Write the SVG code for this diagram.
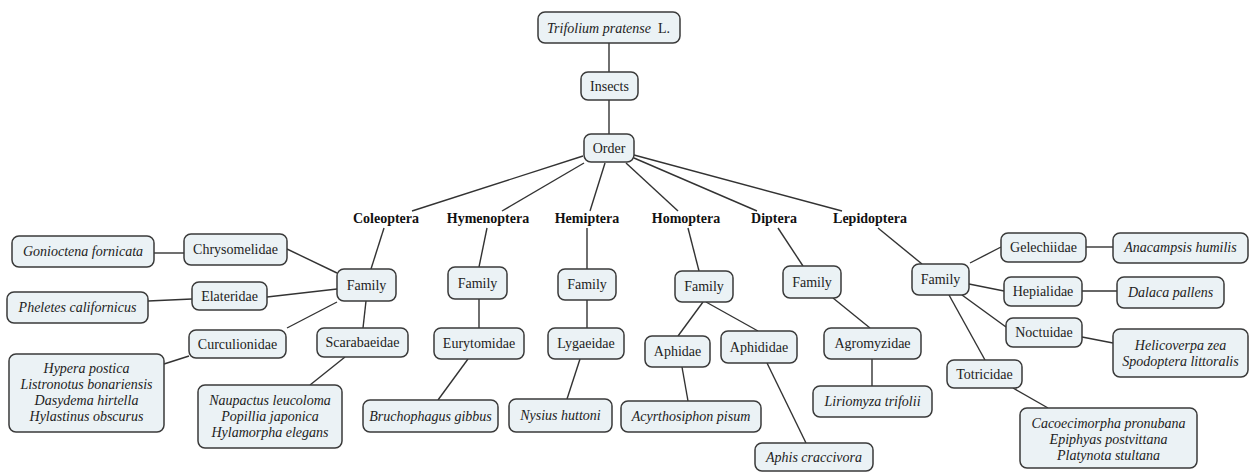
<svg xmlns="http://www.w3.org/2000/svg" width="1250" height="472" viewBox="0 0 1250 472">
<style>
.b{fill:#ebf2f5;stroke:#3a3a3a;stroke-width:1.5}
.t{font-family:'Liberation Serif','Times New Roman',serif;font-size:14px;fill:#222;text-anchor:middle}
.i{font-style:italic}
.o{font-weight:bold;fill:#111}
.c line{stroke:#333;stroke-width:1.4}
</style>
<rect width="1250" height="472" fill="#fff"/>
<g class="c">
<line x1="609" y1="43" x2="609" y2="72"/>
<line x1="609" y1="100" x2="609" y2="134"/>
<line x1="583" y1="156" x2="412" y2="211"/>
<line x1="584" y1="163" x2="502" y2="211"/>
<line x1="605" y1="163" x2="590" y2="211"/>
<line x1="626" y1="163" x2="678" y2="211"/>
<line x1="634" y1="158" x2="757" y2="211"/>
<line x1="634" y1="155" x2="842" y2="211"/>
<line x1="384" y1="228" x2="371" y2="269"/>
<line x1="154" y1="253" x2="184" y2="253"/>
<line x1="287" y1="249" x2="337" y2="273"/>
<line x1="148" y1="301" x2="192" y2="299"/>
<line x1="267" y1="297" x2="337" y2="289"/>
<line x1="337" y1="302" x2="287" y2="328"/>
<line x1="189" y1="356" x2="164" y2="364"/>
<line x1="366" y1="301" x2="363" y2="328"/>
<line x1="345" y1="357" x2="310" y2="385"/>
<line x1="487" y1="228" x2="479" y2="267"/>
<line x1="479" y1="299" x2="479" y2="328"/>
<line x1="468" y1="359" x2="438" y2="400"/>
<line x1="587" y1="228" x2="587" y2="269"/>
<line x1="587" y1="300" x2="587" y2="328"/>
<line x1="580" y1="359" x2="567" y2="399"/>
<line x1="688" y1="228" x2="699" y2="271"/>
<line x1="703" y1="302" x2="678" y2="336"/>
<line x1="706" y1="302" x2="758" y2="331"/>
<line x1="682" y1="367" x2="688" y2="401"/>
<line x1="767" y1="363" x2="806" y2="443"/>
<line x1="778" y1="228" x2="803" y2="266"/>
<line x1="833" y1="298" x2="870" y2="328"/>
<line x1="872" y1="359" x2="872" y2="386"/>
<line x1="878" y1="228" x2="922" y2="264"/>
<line x1="970" y1="263" x2="1001" y2="247"/>
<line x1="1086" y1="247" x2="1113" y2="247"/>
<line x1="969" y1="284" x2="1004" y2="291"/>
<line x1="1082" y1="291" x2="1117" y2="291"/>
<line x1="962" y1="295" x2="1006" y2="327"/>
<line x1="1082" y1="337" x2="1113" y2="343"/>
<line x1="949" y1="295" x2="985" y2="360"/>
<line x1="1013" y1="388" x2="1048" y2="408"/>
</g>
<g id="root"><rect class="b" x="538" y="12" width="142" height="31" rx="7"/><text class="t i" x="599" y="33">Trifolium pratense</text><text class="t" x="664" y="33">L.</text></g>
<g id="insects"><rect class="b" x="581" y="72" width="57" height="28" rx="7"/><text class="t" x="609.5" y="91">Insects</text></g>
<g id="order"><rect class="b" x="584" y="134" width="50" height="28" rx="7"/><text class="t" x="609" y="153">Order</text></g>
<g id="coleoptera"><text class="t o" x="386" y="223">Coleoptera</text></g>
<g id="hymenoptera"><text class="t o" x="488" y="223">Hymenoptera</text></g>
<g id="hemiptera"><text class="t o" x="587" y="223">Hemiptera</text></g>
<g id="homoptera"><text class="t o" x="686" y="223">Homoptera</text></g>
<g id="diptera"><text class="t o" x="774" y="223">Diptera</text></g>
<g id="lepidoptera"><text class="t o" x="870" y="223">Lepidoptera</text></g>
<g id="fam-col"><rect class="b" x="337" y="269" width="59" height="32" rx="7"/><text class="t" x="366.5" y="290">Family</text></g>
<g id="chrysomelidae"><rect class="b" x="184" y="234" width="103" height="31" rx="7"/><text class="t" x="235.5" y="254">Chrysomelidae</text></g>
<g id="gonioctena"><rect class="b" x="12" y="236" width="142" height="31" rx="7"/><text class="t i" x="83" y="256">Gonioctena fornicata</text></g>
<g id="elateridae"><rect class="b" x="192" y="282" width="75" height="28" rx="7"/><text class="t" x="229.5" y="301">Elateridae</text></g>
<g id="pheletes"><rect class="b" x="7" y="292" width="141" height="31" rx="7"/><text class="t i" x="77.5" y="312">Pheletes californicus</text></g>
<g id="curculionidae"><rect class="b" x="189" y="330" width="97" height="28" rx="7"/><text class="t" x="237.5" y="349">Curculionidae</text></g>
<g id="hypera"><rect class="b" x="9" y="354" width="155" height="78" rx="7"/><text class="t i" x="86.5" y="373">Hypera postica</text><text class="t i" x="86.5" y="389">Listronotus bonariensis</text><text class="t i" x="86.5" y="405">Dasydema hirtella</text><text class="t i" x="86.5" y="421">Hylastinus obscurus</text></g>
<g id="scarabaeidae"><rect class="b" x="317" y="328" width="91" height="29" rx="7"/><text class="t" x="362.5" y="347">Scarabaeidae</text></g>
<g id="naupactus"><rect class="b" x="198" y="385" width="144" height="63" rx="7"/><text class="t i" x="270" y="405">Naupactus leucoloma</text><text class="t i" x="270" y="421">Popillia japonica</text><text class="t i" x="270" y="437">Hylamorpha elegans</text></g>
<g id="fam-hym"><rect class="b" x="448" y="267" width="59" height="32" rx="7"/><text class="t" x="477.5" y="288">Family</text></g>
<g id="eurytomidae"><rect class="b" x="434" y="328" width="90" height="31" rx="7"/><text class="t" x="479" y="348">Eurytomidae</text></g>
<g id="bruchophagus"><rect class="b" x="363" y="400" width="135" height="32" rx="7"/><text class="t i" x="430.5" y="421">Bruchophagus gibbus</text></g>
<g id="fam-hem"><rect class="b" x="558" y="269" width="58" height="31" rx="7"/><text class="t" x="587" y="289">Family</text></g>
<g id="lygaeidae"><rect class="b" x="548" y="328" width="76" height="31" rx="7"/><text class="t" x="586" y="348">Lygaeidae</text></g>
<g id="nysius"><rect class="b" x="509" y="399" width="103" height="33" rx="7"/><text class="t i" x="560.5" y="420">Nysius huttoni</text></g>
<g id="fam-hom"><rect class="b" x="675" y="271" width="58" height="31" rx="7"/><text class="t" x="704" y="291">Family</text></g>
<g id="aphidae"><rect class="b" x="645" y="336" width="65" height="31" rx="7"/><text class="t" x="677.5" y="356">Aphidae</text></g>
<g id="aphididae"><rect class="b" x="721" y="331" width="76" height="32" rx="7"/><text class="t" x="759" y="352">Aphididae</text></g>
<g id="acyrthosiphon"><rect class="b" x="621" y="401" width="140" height="31" rx="7"/><text class="t i" x="691" y="421">Acyrthosiphon pisum</text></g>
<g id="aphis"><rect class="b" x="755" y="443" width="118" height="28" rx="7"/><text class="t i" x="814" y="462">Aphis craccivora</text></g>
<g id="fam-dip"><rect class="b" x="783" y="266" width="58" height="32" rx="7"/><text class="t" x="812" y="287">Family</text></g>
<g id="agromyzidae"><rect class="b" x="824" y="328" width="97" height="31" rx="7"/><text class="t" x="872.5" y="348">Agromyzidae</text></g>
<g id="liriomyza"><rect class="b" x="813" y="386" width="119" height="31" rx="7"/><text class="t i" x="872.5" y="406">Liriomyza trifolii</text></g>
<g id="fam-lep"><rect class="b" x="912" y="264" width="57" height="31" rx="7"/><text class="t" x="940.5" y="284">Family</text></g>
<g id="gelechiidae"><rect class="b" x="1001" y="233" width="85" height="29" rx="7"/><text class="t" x="1043.5" y="252">Gelechiidae</text></g>
<g id="anacampsis"><rect class="b" x="1113" y="233" width="135" height="30" rx="7"/><text class="t i" x="1180.5" y="252">Anacampsis humilis</text></g>
<g id="hepialidae"><rect class="b" x="1004" y="277" width="78" height="29" rx="7"/><text class="t" x="1043" y="296">Hepialidae</text></g>
<g id="dalaca"><rect class="b" x="1117" y="277" width="107" height="31" rx="7"/><text class="t i" x="1170.5" y="297">Dalaca pallens</text></g>
<g id="noctuidae"><rect class="b" x="1006" y="318" width="76" height="29" rx="7"/><text class="t" x="1044" y="337">Noctuidae</text></g>
<g id="helicoverpa"><rect class="b" x="1113" y="329" width="135" height="48" rx="7"/><text class="t i" x="1180.5" y="350">Helicoverpa zea</text><text class="t i" x="1180.5" y="366">Spodoptera littoralis</text></g>
<g id="totricidae"><rect class="b" x="947" y="360" width="75" height="28" rx="7"/><text class="t" x="984.5" y="379">Totricidae</text></g>
<g id="cacoecimorpha"><rect class="b" x="1020" y="408" width="177" height="60" rx="7"/><text class="t i" x="1108.5" y="428">Cacoecimorpha pronubana</text><text class="t i" x="1108.5" y="444">Epiphyas postvittana</text><text class="t i" x="1108.5" y="460">Platynota stultana</text></g>
</svg>
